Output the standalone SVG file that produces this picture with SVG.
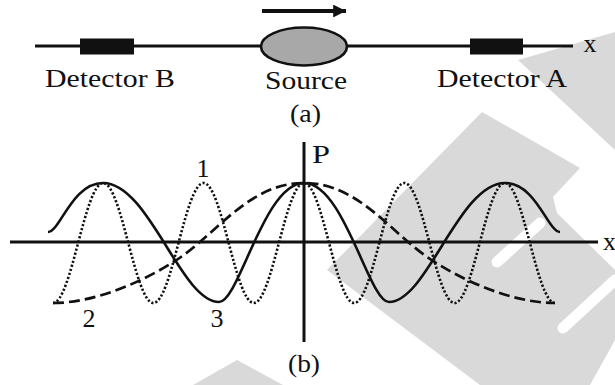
<svg xmlns="http://www.w3.org/2000/svg" width="615" height="385" viewBox="0 0 615 385">
<defs>
<style>
.t{font-family:"Liberation Serif","Times New Roman",serif;font-size:26px;fill:#111}
.wm{fill:#d9d9d9;stroke:none}
.bar{stroke:#fff;stroke-width:11;stroke-linecap:round;fill:none}
.ax{stroke:#111;stroke-width:3;fill:none}
.solid{stroke:#111;stroke-width:2.6;fill:none}
.dash{stroke:#111;stroke-width:2.7;fill:none;stroke-dasharray:11 5}
.dot{stroke:#111;stroke-width:2.6;fill:none;stroke-dasharray:2.2 2}
</style>
<marker id="ah" viewBox="0 0 10 10" refX="10" refY="5" markerWidth="3.2" markerHeight="3.2" orient="auto" markerUnits="strokeWidth">
<path d="M0,0 L10,5 L0,10 Z" fill="#111"/>
</marker>
</defs>
<rect width="615" height="385" fill="#fff"/>
<g id="watermark">
<polygon class="wm" points="518,60 615,32 615,150"/>
<polygon class="wm" points="327,270 482,112 580,168 553,197 557,213 615,270 615,340 590,385 480,385"/>
<polygon class="wm" points="237,360 193,385 283,385"/>
<line class="bar" x1="497" y1="262" x2="540" y2="223"/>
<line class="bar" x1="563" y1="328" x2="615" y2="280"/>
</g>
<g id="part-a">
<g id="connectors-a">
<line class="ax" x1="35" y1="46" x2="573" y2="46"/>
<line x1="262" y1="11" x2="346" y2="11" stroke="#111" stroke-width="4" marker-end="url(#ah)"/>
</g>
<g id="detector-b">
<rect x="80" y="38.5" width="54" height="16" fill="#111"/>
<text class="t" x="45" y="87" textLength="130" lengthAdjust="spacingAndGlyphs">Detector B</text>
</g>
<g id="source">
<ellipse cx="304" cy="46.5" rx="43" ry="19" fill="#a8a8a8" stroke="#111" stroke-width="2.6"/>
<text class="t" x="265" y="89" textLength="82" lengthAdjust="spacingAndGlyphs">Source</text>
</g>
<g id="detector-a">
<rect x="470" y="38.5" width="53" height="16" fill="#111"/>
<text class="t" x="437" y="87" textLength="130" lengthAdjust="spacingAndGlyphs">Detector A</text>
</g>
<text class="t" x="590" y="52" text-anchor="middle">x</text>
<text class="t" x="290" y="122" textLength="31" lengthAdjust="spacingAndGlyphs">(a)</text>
</g>
<g id="part-b">
<g id="axes">
<line class="ax" x1="10" y1="242" x2="598" y2="242"/>
<line class="ax" x1="304" y1="142" x2="304" y2="342"/>
</g>
<g id="curves">
<path id="curve-2" class="dash" d="M53,303 C95,303 145,281 178,259 C218,232 250,183 304,183 C358,183 390,232 430,259 C463,281 513,303 555,303"/>
<path id="curve-1" class="dot" d="M53,303 C71.3,303 84.9,183 103.2,183 C121.5,183 135.1,303 153.4,303 C171.7,303 185.3,183 203.6,183 C221.9,183 235.5,303 253.8,303 C272.1,303 285.7,183 304,183 C322.3,183 335.9,303 354.2,303 C372.5,303 386.1,183 404.4,183 C422.7,183 436.3,303 454.6,303 C472.9,303 486.5,183 504.8,183 C523.1,183 536.7,303 555,303"/>
<path id="curve-3" class="solid" d="M48,232 C60,232 72,183 103,183 C149,183 181,302 219,302 C239,302 264,183 304,183 C344,183 369,302 389,302 C427,302 459,183 505,183 C536,183 548,232 560,232"/>
</g>
<text class="t" x="312" y="163" textLength="18" lengthAdjust="spacingAndGlyphs">P</text>
<text class="t" x="603" y="250">x</text>
<text class="t" x="203" y="177" text-anchor="middle">1</text>
<text class="t" x="89" y="327" text-anchor="middle">2</text>
<text class="t" x="217" y="327" text-anchor="middle">3</text>
<text class="t" x="288" y="372" textLength="32" lengthAdjust="spacingAndGlyphs">(b)</text>
</g>
</svg>
